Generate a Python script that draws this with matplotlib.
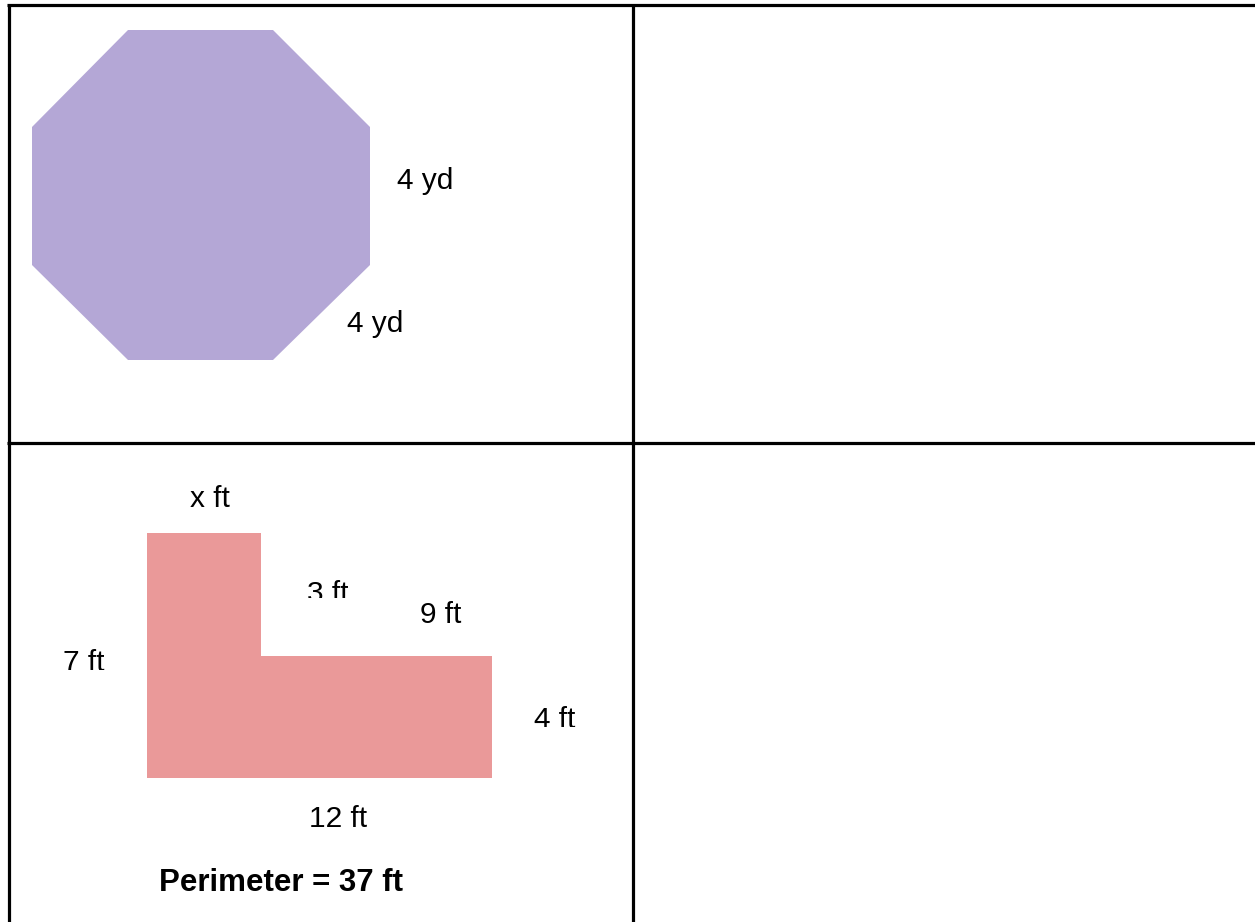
import matplotlib
matplotlib.use("Agg")
import matplotlib.pyplot as plt
from matplotlib.patches import Polygon
from matplotlib.transforms import Bbox, TransformedBbox

# Shapes (pixel coordinates of the worksheet)
octagon_x = [128, 273, 370, 370, 273, 128, 32, 32]
octagon_y = [30, 30, 127, 265, 360, 360, 265, 127]
lshape_x = [147, 261, 261, 492, 492, 147]
lshape_y = [533, 533, 656, 656, 778, 778]

# Labels: text, x-center, baseline, clip-bottom (None = no clip), bold
labels = ["4 yd", "4 yd", "x ft", "3 ft", "9 ft", "7 ft", "4 ft", "12 ft", "Perimeter = 37 ft"]
label_x = [425, 375, 210, 328, 441, 84, 555, 338, 281]
label_y = [189, 332, 507, 602, 623, 671, 728, 827, 891]
label_clip = [None, None, None, 598, None, 670, 727, None, None]
label_bold = [False, False, False, False, False, False, False, False, True]

W, H = 1255, 922
fig = plt.figure(figsize=(W / 100, H / 100), dpi=100)
ax = fig.add_axes([0, 0, 1, 1])
ax.set_xlim(0, W)
ax.set_ylim(H, 0)
ax.axis("off")

ax.add_patch(Polygon(list(zip(octagon_x, octagon_y)), closed=True,
                     facecolor="#B4A7D6", edgecolor="none"))
ax.add_patch(Polygon(list(zip(lshape_x, lshape_y)), closed=True,
                     facecolor="#EA9999", edgecolor="none"))

lw = 2.3
ax.plot([7, W], [5.5, 5.5], color="black", lw=lw, solid_capstyle="butt")
ax.plot([8.5, 8.5], [4, H], color="black", lw=lw, solid_capstyle="butt")
ax.plot([632.5, 632.5], [4, H], color="black", lw=lw, solid_capstyle="butt")
ax.plot([7, W], [443, 443], color="black", lw=lw, solid_capstyle="butt")

for t, x, y, c, b in zip(labels, label_x, label_y, label_clip, label_bold):
    txt = ax.text(x, y, t, ha="center", va="baseline",
                  fontsize=22.5 if b else 21.5,
                  fontweight="bold" if b else "normal",
                  family="Liberation Sans", color="black")
    if c is not None:
        txt.set_clip_path(None)
        txt.set_clip_box(TransformedBbox(Bbox([[0, 0], [W, c]]), ax.transData))
        txt.set_clip_on(True)

fig.savefig("out.png", dpi=100)
